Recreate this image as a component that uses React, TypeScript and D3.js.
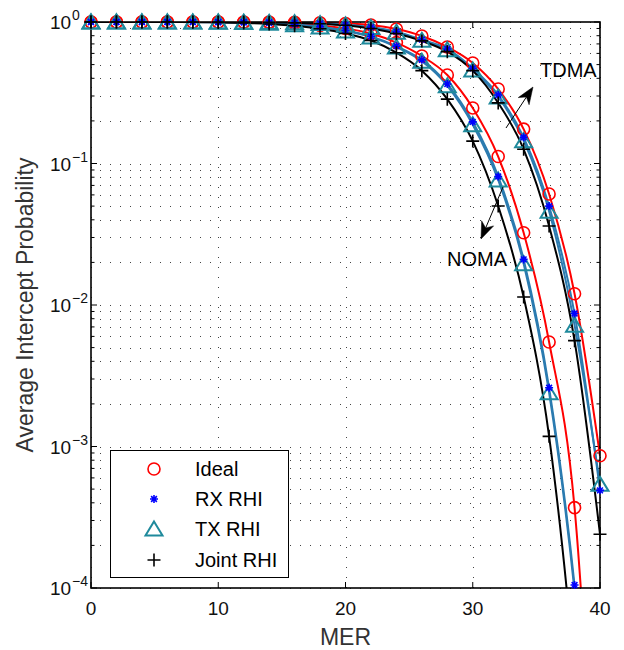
import React from 'react';
import * as d3 from 'd3';

// MER values where markers are placed
const mer = [0, 2, 4, 6, 8, 10, 12, 14, 16, 18, 20, 22, 24, 26, 28, 30, 32, 34, 36, 38, 40];

// TDMA scheme
const tdmaIdeal = [1, 1, 1, 1, 0.9999, 0.9998, 0.9994, 0.998, 0.995, 0.988, 0.975, 0.952, 0.892, 0.796, 0.666, 0.513, 0.336, 0.175, 0.0609, 0.012, 0.00086];
const tdmaRx = [1, 1, 1, 0.9999, 0.9998, 0.9996, 0.999, 0.996, 0.99, 0.978, 0.958, 0.92, 0.855, 0.75, 0.645, 0.47, 0.305, 0.153, 0.05, 0.0087, 0.00049];
const tdmaTx = [1, 1, 1, 0.9999, 0.9998, 0.9995, 0.9988, 0.995, 0.988, 0.975, 0.954, 0.915, 0.848, 0.742, 0.637, 0.458, 0.295, 0.145, 0.046, 0.0072, 0.00054];
const tdmaJoint = [1, 1, 1, 0.9999, 0.9997, 0.9993, 0.998, 0.994, 0.986, 0.972, 0.948, 0.9, 0.83, 0.735, 0.617, 0.453, 0.268, 0.126, 0.0362, 0.0056, 0.00024];

// NOMA scheme
const nomaIdeal = [1, 1, 1, 0.9998, 0.9995, 0.999, 0.996, 0.988, 0.972, 0.945, 0.9, 0.83, 0.715, 0.575, 0.422, 0.247, 0.112, 0.0324, 0.00548, 0.00037, 0.0000006];
const nomaRx = [1, 1, 0.9998, 0.9995, 0.999, 0.997, 0.992, 0.982, 0.962, 0.925, 0.87, 0.79, 0.675, 0.54, 0.365, 0.197, 0.081, 0.021, 0.0026, 0.000105, 0.000001];
const nomaTx = [1, 1, 0.9998, 0.9994, 0.9988, 0.9965, 0.991, 0.98, 0.958, 0.92, 0.864, 0.782, 0.665, 0.528, 0.354, 0.188, 0.0765, 0.0196, 0.0024, 0.000095, 0.0000008];
const nomaJoint = [1, 0.9999, 0.9997, 0.999, 0.997, 0.993, 0.985, 0.968, 0.94, 0.895, 0.83, 0.74, 0.607, 0.453, 0.285, 0.144, 0.0501, 0.0114, 0.00118, 0.000025, 0.0000001];

const legendLabels = ['Ideal', 'RX RHI', 'TX RHI', 'Joint RHI'];
const xTickValues = [0, 10, 20, 30, 40];

const RED = '#ff0000';
const LINE_BLUE = '#2b7bb0';
const TRI = '#1f8a9c';
const STAR = '#0000ff';
const BLACK = '#000000';

type MarkerKind = 'circle' | 'star' | 'triangle' | 'plus';

function Marker({ kind, cx, cy }: { kind: MarkerKind; cx: number; cy: number }) {
  if (kind === 'circle') {
    return <circle cx={cx} cy={cy} r={6} fill="none" stroke={RED} strokeWidth={1.6} />;
  }
  if (kind === 'triangle') {
    const p = `M${cx},${cy - 7.5} L${cx + 8.5},${cy + 6.5} L${cx - 8.5},${cy + 6.5} Z`;
    return <path d={p} fill="none" stroke={TRI} strokeWidth={2} strokeLinejoin="miter" />;
  }
  if (kind === 'star') {
    const s = 4;
    const a = s * 0.72;
    const p = `M${cx - s},${cy} L${cx + s},${cy} M${cx},${cy - s} L${cx},${cy + s} M${cx - a},${cy - a} L${cx + a},${cy + a} M${cx - a},${cy + a} L${cx + a},${cy - a}`;
    return <path d={p} stroke={STAR} strokeWidth={1.6} fill="none" />;
  }
  const s = 6.5;
  const p = `M${cx - s},${cy} L${cx + s},${cy} M${cx},${cy - s} L${cx},${cy + s}`;
  return <path d={p} stroke={BLACK} strokeWidth={1.6} fill="none" />;
}

function Arrow({ x1, y1, x2, y2 }: { x1: number; y1: number; x2: number; y2: number }) {
  const ang = Math.atan2(y2 - y1, x2 - x1);
  const L = 17;
  const W = 6.5;
  const N = 5;
  const ux = Math.cos(ang), uy = Math.sin(ang);
  const px = -uy, py = ux;
  const bx = x2 - ux * L, by = y2 - uy * L;
  const nx = x2 - ux * (L - N), ny = y2 - uy * (L - N);
  const head = `M${x2},${y2} L${bx + px * W},${by + py * W} L${nx},${ny} L${bx - px * W},${by - py * W} Z`;
  return (
    <g>
      <line x1={x1} y1={y1} x2={nx} y2={ny} stroke="#000" strokeWidth={1} />
      <path d={head} fill="#000" stroke="#000" strokeWidth={0.5} />
    </g>
  );
}

export default function App() {
  const left = 91, right = 600, top = 22, bottom = 588;
  const x = d3.scaleLinear().domain([0, 40]).range([left, right]);
  const y = d3.scaleLog().domain([1e-4, 1]).range([bottom, top]);

  const series = [
    { v: tdmaIdeal, color: RED, m: 'circle' as MarkerKind },
    { v: nomaIdeal, color: RED, m: 'circle' as MarkerKind },
    { v: tdmaRx, color: LINE_BLUE, m: 'star' as MarkerKind },
    { v: nomaRx, color: LINE_BLUE, m: 'star' as MarkerKind },
    { v: tdmaTx, color: LINE_BLUE, m: 'triangle' as MarkerKind },
    { v: nomaTx, color: LINE_BLUE, m: 'triangle' as MarkerKind },
    { v: tdmaJoint, color: BLACK, m: 'plus' as MarkerKind },
    { v: nomaJoint, color: BLACK, m: 'plus' as MarkerKind },
  ];

  const line = d3
    .line<number>()
    .x((_, i) => x(mer[i]))
    .y((d) => y(d))
    .curve(d3.curveMonotoneX);

  const yTicks = y.ticks();
  const isMajor = (t: number) => Math.abs(Math.log10(t) - Math.round(Math.log10(t))) < 1e-9;
  const majors = yTicks.filter(isMajor);
  const minors = yTicks.filter((t) => !isMajor(t));

  const markerOrder: MarkerKind[] = ['circle', 'triangle', 'star', 'plus'];
  const font = '"Liberation Sans", Arial, Helvetica, sans-serif';

  return (
    <svg
      width={624}
      height={650}
      style={{ position: 'absolute', left: 0, top: 0, background: '#fff' }}
      fontFamily={font}
    >
      <defs>
        <clipPath id="plotClip">
          <rect x={left} y={top} width={right - left} height={bottom - top} />
        </clipPath>
      </defs>
      <rect x={0} y={0} width={624} height={650} fill="#fff" />

      {/* grid */}
      <g stroke="#444" strokeWidth={1} strokeDasharray="1,9">
        {yTicks.map((t, i) => (
          <line key={'gy' + i} x1={left + 9} x2={right} y1={Math.round(y(t)) + 0.5} y2={Math.round(y(t)) + 0.5} />
        ))}
        {xTickValues.map((t, i) => (
          <line key={'gx' + i} x1={Math.round(x(t)) + 0.5} x2={Math.round(x(t)) + 0.5} y1={top + 5} y2={bottom} />
        ))}
      </g>

      {/* ticks */}
      <g stroke="#000" strokeWidth={1}>
        {majors.map((t, i) => (
          <g key={'my' + i}>
            <line x1={left} x2={left + 6} y1={y(t)} y2={y(t)} />
            <line x1={right} x2={right - 6} y1={y(t)} y2={y(t)} />
          </g>
        ))}
        {minors.map((t, i) => (
          <g key={'ny' + i}>
            <line x1={left} x2={left + 3.5} y1={y(t)} y2={y(t)} />
            <line x1={right} x2={right - 3.5} y1={y(t)} y2={y(t)} />
          </g>
        ))}
        {xTickValues.map((t, i) => (
          <g key={'tx' + i}>
            <line x1={x(t)} x2={x(t)} y1={bottom} y2={bottom - 6} />
            <line x1={x(t)} x2={x(t)} y1={top} y2={top + 6} />
          </g>
        ))}
      </g>

      {/* lines */}
      <g clipPath="url(#plotClip)" fill="none" strokeWidth={2}>
        {series.map((s, i) => (
          <path key={'l' + i} d={line(s.v) || ''} stroke={s.color} />
        ))}
      </g>

      {/* axes box */}
      <rect x={left} y={top} width={right - left} height={bottom - top} fill="none" stroke="#000" strokeWidth={1.6} />

      {/* markers */}
      <g>
        {markerOrder.map((kind) =>
          series
            .filter((s) => s.m === kind)
            .map((s, si) =>
              s.v.map((v, i) =>
                v >= 1e-4 ? <Marker key={kind + si + '-' + i} kind={kind} cx={x(mer[i])} cy={y(v)} /> : null
              )
            )
        )}
      </g>

      {/* y tick labels */}
      <g fill="#111">
        {majors.map((t, i) => {
          const e = Math.round(Math.log10(t));
          const ty = y(t);
          return (
            <g key={'yl' + i}>
              <text x={50} y={ty + 7.4} fontSize={19}>10</text>
              <text x={72} y={ty - 2} fontSize={14}>{e === 0 ? '0' : '\u2212' + Math.abs(e)}</text>
            </g>
          );
        })}
      </g>

      {/* x tick labels */}
      <g fill="#111" fontSize={19} textAnchor="middle">
        {xTickValues.map((t, i) => (
          <text key={'xl' + i} x={x(t)} y={614.5}>{t}</text>
        ))}
      </g>

      {/* axis labels */}
      <text x={(left + right) / 2} y={645} fontSize={23} textAnchor="middle" fill="#333">MER</text>
      <text
        transform={`translate(33,${(top + bottom) / 2}) rotate(-90)`}
        fontSize={23}
        textAnchor="middle"
        fill="#333"
      >
        Average Intercept Probability
      </text>

      {/* annotations */}
      <Arrow x1={506} y1={128} x2={533} y2={87} />
      <text x={540} y={76.5} fontSize={20} fill="#000">TDMA</text>
      <Arrow x1={503} y1={187} x2={481} y2={239} />
      <text x={447} y={266} fontSize={20} fill="#000">NOMA</text>

      {/* legend */}
      <g>
        <rect x={110.5} y={450.5} width={178} height={127} fill="#fff" stroke="#000" strokeWidth={1} />
        {legendLabels.map((lab, i) => {
          const ry = [469, 499, 529, 560][i];
          const kinds: MarkerKind[] = ['circle', 'star', 'triangle', 'plus'];
          return (
            <g key={'lg' + i}>
              <Marker kind={kinds[i]} cx={154} cy={ry} />
              <text x={195} y={ry + 7.2} fontSize={20} fill="#000">{lab}</text>
            </g>
          );
        })}
      </g>
    </svg>
  );
}
